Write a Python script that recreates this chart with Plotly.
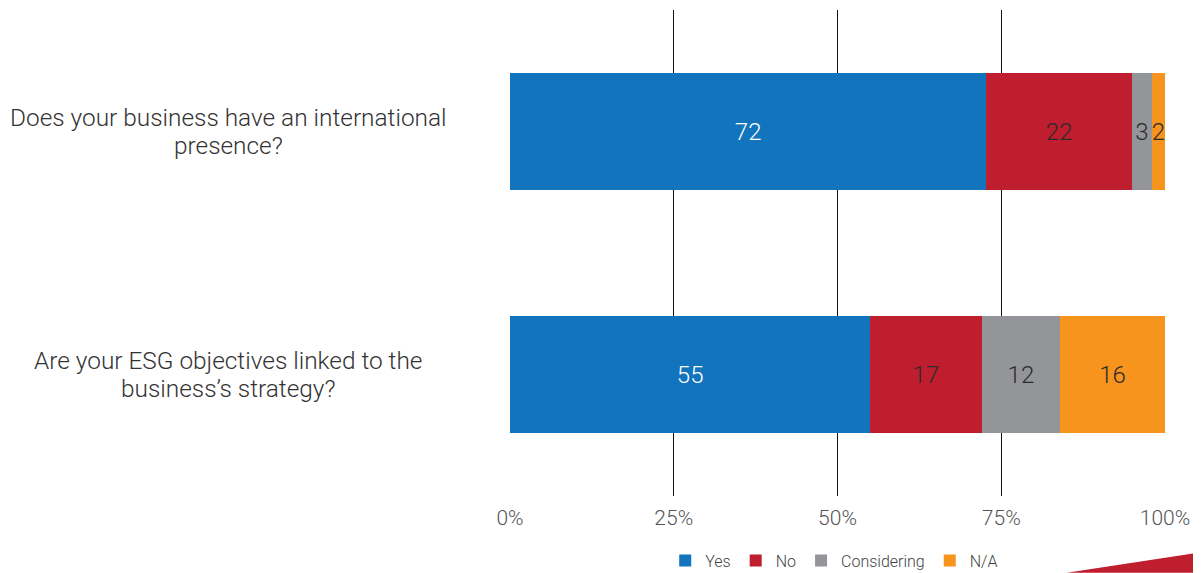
import plotly.graph_objects as go

questions = [
    ["Does your business have an international", "presence?"],
    ["Are your ESG objectives linked to the", "business\u2019s strategy?"],
]
series_names = ["Yes", "No", "Considering", "N/A"]
yes_vals = [72, 55]
no_vals = [22, 17]
considering_vals = [3, 12]
na_vals = [2, 16]
x_ticks = [0, 25, 50, 75, 100]

colors = ["#1174BC", "#BE1E2D", "#939598", "#F7941D"]
text_colors = ["#FFFFFF", "#2B2B2B", "#2B2B2B", "#2B2B2B"]
cats = ["q1", "q2"]

fig = go.Figure()
for name, vals, col, tcol in zip(series_names, [yes_vals, no_vals, considering_vals, na_vals], colors, text_colors):
    fig.add_trace(go.Bar(
        y=cats, x=vals, name=name, orientation="h",
        marker=dict(color=col, line=dict(width=0)),
        text=[str(v) for v in vals], textposition="inside",
        insidetextanchor="middle", constraintext="none",
        textfont=dict(family="Roboto", size=24, color=tcol, weight=300),
        hoverinfo="skip",
    ))

# category labels: centered two-line blocks to the left of the axis
label_center_x = -0.4298  # paper x of the label block centre
for c, lines in zip(cats, questions):
    n = len(lines)
    for i, line in enumerate(lines):
        fig.add_annotation(
            x=label_center_x, xref="paper", xanchor="center", y=c, yref="y",
            yshift=14 * (n - 1) - 28 * i,
            text=line, showarrow=False,
            font=dict(family="Roboto", size=24.4, color="#333333", weight=300),
        )

# decorative corner triangle
fig.add_shape(type="path", xref="paper", yref="paper",
              path="M 0.85,-0.158 L 1.06,-0.115 L 1.06,-0.158 Z",
              fillcolor="#BE1E2D", line=dict(width=0), layer="above")

fig.update_layout(
    width=1193, height=565,
    barmode="stack", barnorm="percent", bargap=0.52,
    plot_bgcolor="white", paper_bgcolor="white",
    margin=dict(l=502, r=36, t=2, b=77, autoexpand=False),
    uniformtext=dict(minsize=24, mode="show"),
    font=dict(family="Roboto", weight=300, color="#444444"),
    showlegend=True,
    legend=dict(orientation="h", x=0.495, xanchor="center", y=-0.133, yanchor="middle",
                font=dict(family="Roboto", size=16, color="#444444", weight=300),
                traceorder="normal", itemwidth=30),
    xaxis=dict(range=[0, 100], tickvals=x_ticks, ticktext=[f"{t}%" for t in x_ticks],
               showgrid=True, gridcolor="#111111", gridwidth=1, zeroline=False,
               showline=False, ticks="", ticklabelstandoff=7, automargin=False,
               tickfont=dict(family="Roboto", size=21, color="#555555", weight=300),
               fixedrange=True),
    yaxis=dict(categoryorder="array", categoryarray=cats, autorange="reversed",
               showticklabels=False, showgrid=False, zeroline=False, showline=False,
               automargin=False, range=[1.5, -0.5]),
)

fig.write_html("out.html")
